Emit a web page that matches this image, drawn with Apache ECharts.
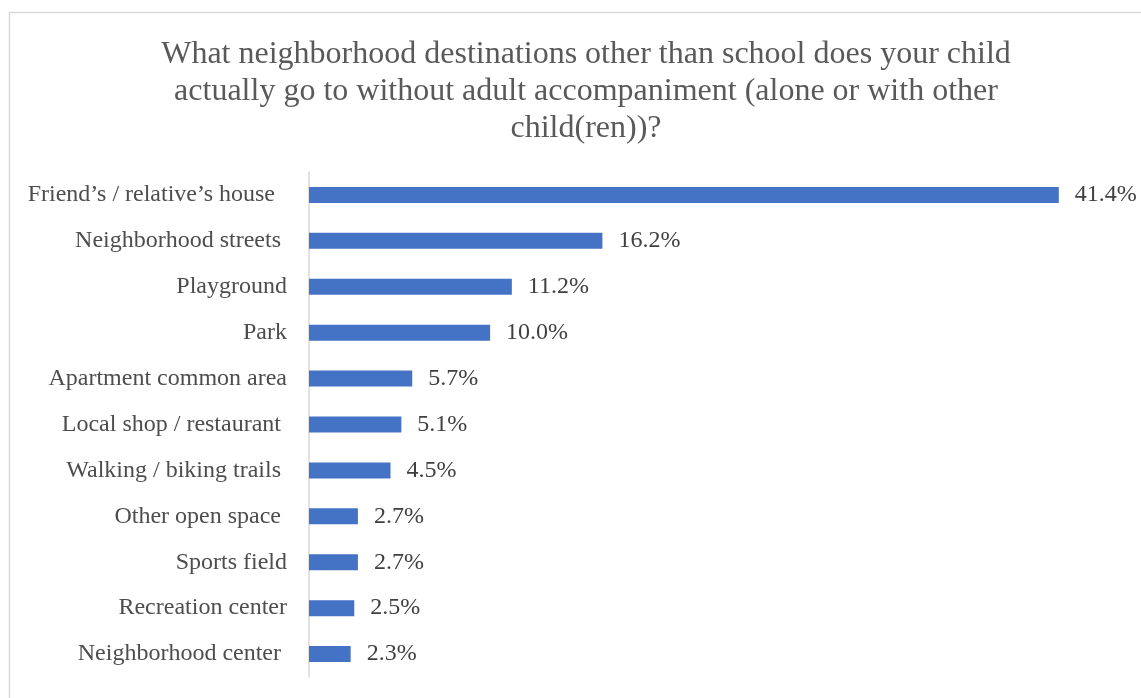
<!DOCTYPE html>
<html>
<head>
<meta charset="utf-8">
<script src="https://cdn.jsdelivr.net/npm/echarts@6/dist/echarts.min.js"></script>
<style>html,body{margin:0;padding:0;background:#fff;}#main{width:1141px;height:698px;}</style>
</head>
<body>
<div id="main"></div>
<script>
const titleText = "What neighborhood destinations other than school does your child\nactually go to without adult accompaniment (alone or with other\nchild(ren))?";
const categories = [
  "Friend’s / relative’s house  ",
  "Neighborhood streets ",
  "Playground",
  "Park",
  "Apartment common area",
  "Local shop / restaurant ",
  "Walking / biking trails ",
  "Other open space ",
  "Sports field",
  "Recreation center",
  "Neighborhood center "
];
const values = [41.4, 16.2, 11.2, 10.0, 5.7, 5.1, 4.5, 2.7, 2.7, 2.5, 2.3];

const chart = echarts.init(document.getElementById('main'), null, {renderer: 'canvas'});
const font = '"Liberation Serif", "Times New Roman", serif';
chart.setOption({
  backgroundColor: '#fff',
  animation: false,
  graphic: [{
    type: 'rect',
    shape: {x: 9.5, y: 12.5, width: 1160, height: 720},
    style: {fill: 'none', stroke: '#d9d9d9', lineWidth: 1.5},
    z: -1
  }],
  title: {
    text: titleText,
    left: 581,
    top: 31,
    textAlign: 'center',
    textStyle: {fontFamily: font, fontSize: 32, fontWeight: 'normal', color: '#595959', lineHeight: 37}
  },
  grid: {left: 309, top: 172, width: 815, height: 505, containLabel: false},
  xAxis: {
    type: 'value', min: 0, max: 45,
    show: false
  },
  yAxis: {
    type: 'category',
    data: categories,
    inverse: true,
    axisLine: {show: true, lineStyle: {color: '#d9d9d9', width: 1.5}},
    axisTick: {show: false},
    axisLabel: {fontFamily: font, fontSize: 24, color: '#4d4d4d', margin: 22, padding: [2, 0, 0, 0]}
  },
  series: [{
    type: 'bar',
    data: values,
    barWidth: 16,
    itemStyle: {color: '#4472C4'},
    label: {
      show: true, position: 'right', distance: 16,
      fontFamily: font, fontSize: 24, color: '#404040',
      formatter: p => p.value.toFixed(1) + '%'
    }
  }]
});
</script>
</body>
</html>
